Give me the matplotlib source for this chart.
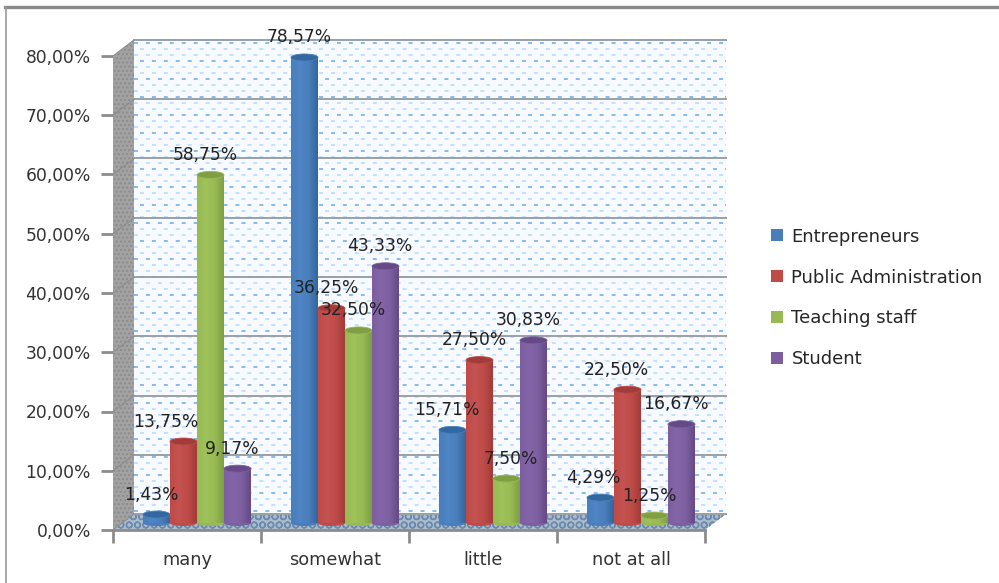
import numpy as np
import matplotlib
matplotlib.use('Agg')
import matplotlib.pyplot as plt
from matplotlib.colors import LinearSegmentedColormap
from matplotlib.lines import Line2D
from matplotlib.patches import Ellipse, Polygon
from matplotlib.ticker import FuncFormatter

categories = ['many', 'somewhat', 'little', 'not at all']
entrepreneurs = [1.43, 78.57, 15.71, 4.29]
public_admin = [13.75, 36.25, 27.50, 22.50]
teaching_staff = [58.75, 32.50, 7.50, 1.25]
student = [9.17, 43.33, 30.83, 16.67]
series_names = ['Entrepreneurs', 'Public Administration', 'Teaching staff', 'Student']
y_ticks = [0, 10, 20, 30, 40, 50, 60, 70, 80]

series = [entrepreneurs, public_admin, teaching_staff, student]
colors = ['#4a7ebb', '#be4b48', '#98b954', '#7d5fa0']
dark = ['#33679f', '#a23c39', '#7f9f42', '#654a87']
light = ['#4f86c6', '#c55351', '#a0c25a', '#8465a8']

W, H = 999, 583
plt.rcParams['font.family'] = 'DejaVu Sans'
plt.rcParams['font.size'] = 12.3
plt.rcParams['text.color'] = '#262626'

fig = plt.figure(figsize=(W / 100, H / 100), dpi=100, facecolor='white')
# the axes box is the front plane of the fake 3d chart
left, right, bottom, top = 113, 705, 530, 56
ax = fig.add_axes([left / W, 1 - bottom / H, (right - left) / W, (bottom - top) / H])
ax.set_facecolor('none')
ux = 4 / (right - left)     # data units per pixel
uy = 80 / (bottom - top)
dx, dy = 21 * ux, 16 * uy   # depth of the box
mx, my = 10 * ux, 7 * uy    # where the bars stand in the box

# back wall with the dotted fill
wall_w, wall_h = right - left + 3, bottom - top + 1
wall = np.ones((wall_h, wall_w, 3))
wall[:, :] = [0.97, 0.985, 1.0]
for r in range(3, wall_h, 6):
    for c in range(0, wall_w, 12):
        cc = c + (6 if (r // 6) % 2 else 0)
        strong = (r // 6) % 3 == 0
        col = [0.55, 0.74, 0.93] if strong else [0.78, 0.88, 0.98]
        wall[r:r + 2, cc:cc + 4] = col
ax.imshow(wall, extent=(dx, 4 + dx, dy, 80 + dy), aspect='auto',
          interpolation='bilinear', clip_on=False, zorder=1)

# left wall and floor
ax.add_patch(Polygon([(0, 0), (dx, dy), (dx, 80 + dy), (0, 80)], closed=True, clip_on=False,
                     facecolor='#a2a2a2', edgecolor='#8c8c8c', hatch='....', lw=0, zorder=2))
ax.add_patch(Polygon([(0, 0), (4, 0), (4 + dx, dy), (dx, dy)], closed=True, clip_on=False,
                     facecolor='#aebbc8', edgecolor='#6a8bb3', hatch='OO', lw=0, zorder=2))

for v in y_ticks:
    ax.plot([dx, 4 + dx], [v + dy, v + dy], color='#9aa1a4', lw=1.4, clip_on=False, zorder=3)
    ax.plot([0, dx], [v, v + dy], color='#8c8c8c', lw=0.8, clip_on=False, zorder=3)

# bars
bar_w = 27 * ux
bar_handles = []
z = 5
for i, (vals, name) in enumerate(zip(series, series_names)):
    cmap = LinearSegmentedColormap.from_list('cyl', [colors[i], light[i], colors[i], dark[i]])
    xs = np.arange(len(categories)) + 0.5 + mx + (i - 1.5) * bar_w
    bars = ax.bar(xs, vals, width=bar_w, bottom=my, color=colors[i], label=name, zorder=z)
    bar_handles.append(bars)
    for b in bars:
        x0, w, y0, h = b.get_x(), b.get_width(), b.get_y(), b.get_height()
        ax.add_patch(Ellipse((x0 + w / 2, y0), w, 6 * uy, facecolor=colors[i], lw=0, zorder=z, clip_on=False))
        ax.imshow(np.linspace(0, 1, 40).reshape(1, -1), extent=(x0, x0 + w, y0, y0 + h), aspect='auto',
                  cmap=cmap, interpolation='bilinear', zorder=z + 0.1)
        ax.add_patch(Ellipse((x0 + w / 2, y0 + h), w, 7 * uy, facecolor=dark[i], edgecolor=colors[i],
                             lw=0.6, zorder=z + 0.2, clip_on=False))
    z += 1

# data labels, a few of them sit further from the default spot
nudge = {(0, 1): -9, (3, 1): -4, (3, 0): -1, (2, 2): 7}
for i, vals in enumerate(series):
    for j, v in enumerate(vals):
        x = j + 0.5 + mx + (i - 1.5) * bar_w
        ax.annotate(f'{v:.2f}%'.replace('.', ','), (x, my + v),
                    xytext=(-4 + nudge.get((j, i), 0), 20 * 0.72), textcoords='offset points',
                    ha='center', va='center', color='#222222', zorder=20, annotation_clip=False)

ax.set_xlim(0, 4)
ax.set_ylim(0, 80)
ax.set_yticks(y_ticks)
ax.yaxis.set_major_formatter(FuncFormatter(lambda v, _: f'{v:.2f}%'.replace('.', ',')))
ax.set_xticks(range(5))
ax.set_xticklabels([])
ax.set_xticks(np.arange(len(categories)) + 0.5, categories, minor=True)
ax.tick_params(axis='x', which='minor', length=0, pad=15, labelsize=12.8, labelcolor='#333333')
ax.tick_params(axis='x', which='major', length=9, width=2, color='#8c8c8c')
ax.tick_params(axis='y', length=9, width=2, color='#8c8c8c', pad=7, labelcolor='#333333')
for s in ['top', 'right', 'left']:
    ax.spines[s].set_visible(False)
ax.spines['bottom'].set_color('#8c8c8c')
ax.spines['bottom'].set_linewidth(2)
ax.spines['bottom'].set_zorder(15)

leg = fig.legend(handles=[b[0] for b in bar_handles], labels=series_names, loc='center left',
                 bbox_to_anchor=(771 / W, 1 - 298 / H), frameon=False, fontsize=13, handlelength=0.68,
                 handleheight=0.68, handletextpad=0.45, labelspacing=1.27, borderpad=0, borderaxespad=0)

# page border
fig.add_artist(Line2D([5 / W, 1], [1 - 6.5 / H, 1 - 6.5 / H], color='#8a8a8a', lw=2.4))
fig.add_artist(Line2D([5.5 / W, 5.5 / W], [0, 1 - 6.5 / H], color='#9a9a9a', lw=1.2))

fig.savefig('out.png', dpi=100)
